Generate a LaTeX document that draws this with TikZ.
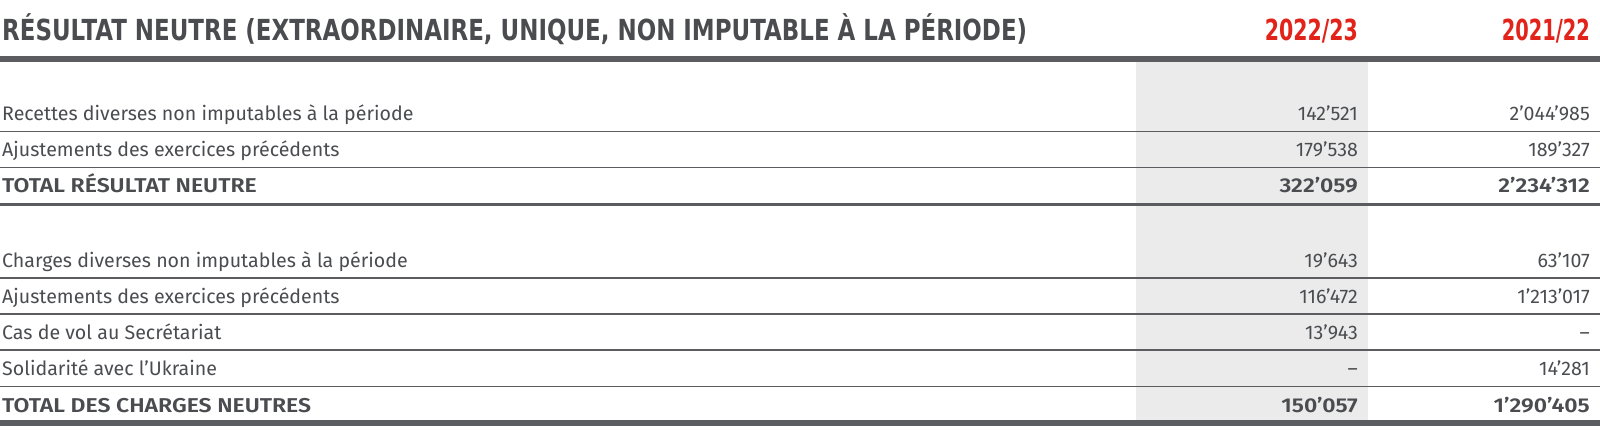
\documentclass[tikz,border=0pt]{standalone}
\usepackage{fontspec}
\setmainfont{Fira Sans}[BoldFont=* SemiBold, BoldFeatures={FakeStretch=1.15}]
\newfontfamily\titlefont{DejaVu Sans}
\definecolor{inkgray}{HTML}{4A4C50}
\definecolor{rulegray}{HTML}{5A5C5F}
\definecolor{shadegray}{HTML}{EBEBEB}
\definecolor{yearred}{HTML}{E2231A}

\begin{document}
\begin{tikzpicture}[x=1pt,y=-1pt]
    \tikzstyle{heading}=[anchor=base west,inner sep=0pt,text=inkgray,font=\titlefont\bfseries\fontsize{29}{29}\selectfont]
    \tikzstyle{year}=[anchor=base east,inner sep=0pt,text=yearred,font=\titlefont\bfseries\fontsize{29}{29}\selectfont]
    \tikzstyle{label}=[anchor=base west,inner sep=0pt,text=inkgray,font=\fontsize{19.6}{20}\selectfont]
    \tikzstyle{amount}=[anchor=base east,inner sep=0pt,text=inkgray,font=\fontsize{19.6}{20}\selectfont]
    \tikzstyle{total}=[font=\bfseries\fontsize{20}{20}\selectfont]
    \tikzstyle{thinrule}=[draw=rulegray,line width=1.4pt]
    \tikzstyle{totalrule}=[draw=rulegray,line width=3pt]
    \tikzstyle{heavyrule}=[draw=rulegray,line width=6pt]
    \useasboundingbox (0,0) rectangle (1600,429);
    % shaded current year column
    \fill[shadegray] (1136,62) rectangle (1368,421);
    % header
    \node[heading] (title) at (2,40) {\resizebox{1025pt}{\height}{RÉSULTAT NEUTRE (EXTRAORDINAIRE, UNIQUE, NON IMPUTABLE À LA PÉRIODE)}};
    \node[year] (curyear) at (1358,40) {\resizebox{93pt}{\height}{2022/23}};
    \node[year] (prevyear) at (1590,40) {\resizebox{88pt}{\height}{2021/22}};
    \draw[heavyrule] (0,59) -- (1600,59);
    % neutral income
    \node[label] (inc1) at (2,120) {Recettes diverses non imputables à la période};
    \node[amount] (inc1a) at (1358,120) {142’521};
    \node[amount] (inc1b) at (1590,120) {2’044’985};
    \draw[thinrule] (0,131.5) -- (1600,131.5);
    \node[label] (inc2) at (2,156) {Ajustements des exercices précédents};
    \node[amount] (inc2a) at (1358,156) {179’538};
    \node[amount] (inc2b) at (1590,156) {189’327};
    \draw[thinrule] (0,167.5) -- (1600,167.5);
    \node[label,total] (inctot) at (2,192) {TOTAL RÉSULTAT NEUTRE};
    \node[amount,total] (inctota) at (1358,192) {322’059};
    \node[amount,total] (inctotb) at (1590,192) {2’234’312};
    \draw[totalrule] (0,204) -- (1600,204);
    % neutral charges
    \node[label] (chg1) at (2,267) {Charges diverses non imputables à la période};
    \node[amount] (chg1a) at (1358,267) {19’643};
    \node[amount] (chg1b) at (1590,267) {63’107};
    \draw[thinrule] (0,278) -- (1600,278);
    \node[label] (chg2) at (2,303) {Ajustements des exercices précédents};
    \node[amount] (chg2a) at (1358,303) {116’472};
    \node[amount] (chg2b) at (1590,303) {1’213’017};
    \draw[thinrule] (0,314) -- (1600,314);
    \node[label] (chg3) at (2,339) {Cas de vol au Secrétariat};
    \node[amount] (chg3a) at (1358,339) {13’943};
    \node[amount] (chg3b) at (1590,339) {–};
    \draw[thinrule] (0,350) -- (1600,350);
    \node[label] (chg4) at (2,375) {Solidarité avec l’Ukraine};
    \node[amount] (chg4a) at (1358,375) {–};
    \node[amount] (chg4b) at (1590,375) {14’281};
    \draw[thinrule] (0,386.5) -- (1600,386.5);
    \node[label,total] (chgtot) at (2,412) {TOTAL DES CHARGES NEUTRES};
    \node[amount,total] (chgtota) at (1358,412) {150’057};
    \node[amount,total] (chgtotb) at (1590,412) {1’290’405};
    \draw[heavyrule] (0,423) -- (1600,423);
\end{tikzpicture}
\end{document}
